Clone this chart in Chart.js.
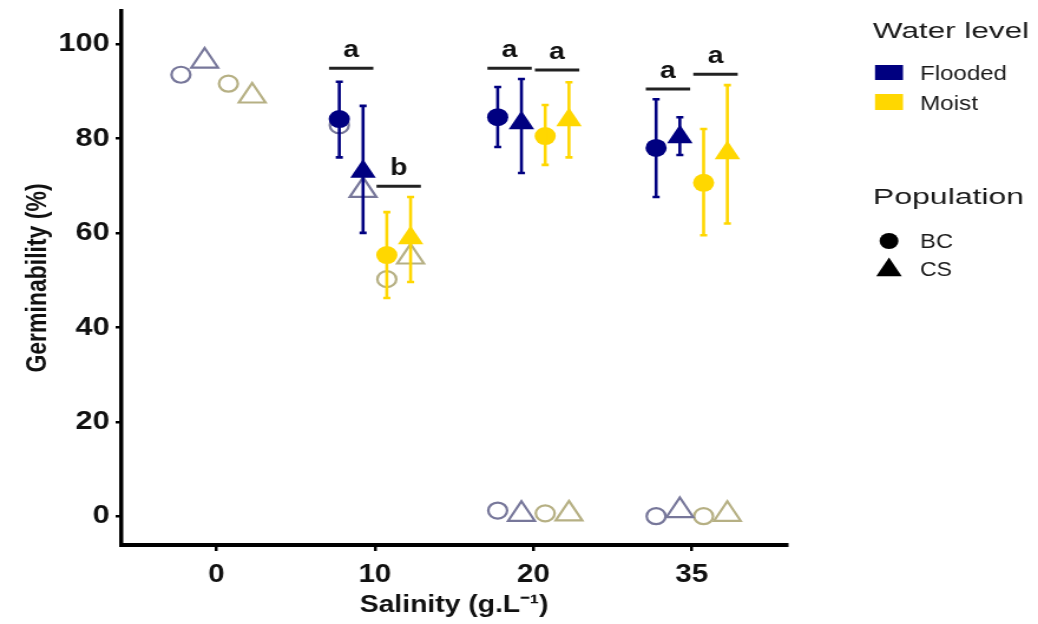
<!DOCTYPE html>
<html>
<head>
<meta charset="utf-8">
<script src="https://cdn.jsdelivr.net/npm/chart.js@4.4.1/dist/chart.umd.min.js"></script>
<style>
  body { margin: 0; background: #fff; }
  #myChart { display: block; width: 1038px; height: 624px; }
</style>
</head>
<body>
<canvas id="myChart" width="880" height="624" style="width:1038px;height:624px"></canvas>
<script>
// categories and tick labels
var salinity = ['0', '10', '20', '35'];
var yTickValues = [0, 20, 40, 60, 80, 100];

// mean germinability with error bar limits (no treatment at 0)
var floodedBC = [null, 84.1, 84.5, 78.0];
var floodedBCLow = [null, 76.0, 78.2, 67.6];
var floodedBCHigh = [null, 92.0, 90.9, 88.3];
var floodedCS = [null, 73.0, 83.3, 80.3];
var floodedCSLow = [null, 60.0, 72.7, 76.5];
var floodedCSHigh = [null, 86.9, 92.6, 84.5];
var moistBC = [null, 55.3, 80.5, 70.6];
var moistBCLow = [null, 46.2, 74.4, 59.5];
var moistBCHigh = [null, 64.4, 87.1, 82.0];
var moistCS = [null, 58.9, 83.9, 76.9];
var moistCSLow = [null, 49.6, 76.0, 62.0];
var moistCSHigh = [null, 67.6, 91.9, 91.3];

// hollow (faded) markers
var floodedBCOpen = [93.5, 82.8, 1.2, 0.0];
var floodedCSOpen = [96.4, 69.0, 0.4, 1.2];
var moistBCOpen = [91.6, 50.2, 0.6, 0.0];
var moistCSOpen = [89.0, 54.9, 0.5, 0.4];

// significance letters and the height of their bars
var floodedLetters = ['', 'a', 'a', 'a'];
var floodedLetterY = [null, 94.9, 94.9, 90.5];
var moistLetters = ['', 'b', 'a', 'a'];
var moistLetterY = [null, 69.9, 94.5, 93.6];

var waterLevels = ['Flooded', 'Moist'];
var populations = ['BC', 'CS'];

var NAVY = '#000080';
var GOLD = '#FFD700';
var dodge = [-0.225, -0.075, 0.075, 0.225];

function pts(values, g) {
    var out = [];
    values.forEach(function (v, i) {
        if (v !== null) out.push({ x: i + 1 + dodge[g], y: v });
    });
    return out;
}

function openSet(values, g, style, color) {
    return {
        data: pts(values, g), order: 2,
        pointStyle: style, pointRadius: style === 'circle' ? 8 : 13,
        backgroundColor: 'rgba(0,0,0,0)', borderColor: color, pointBorderWidth: 2.2,
        showLine: false
    };
}
function fillSet(values, g, style, color) {
    return {
        data: pts(values, g), order: 1,
        pointStyle: style, pointRadius: style === 'circle' ? 9 : 12.5,
        backgroundColor: color, borderColor: color, pointBorderWidth: 0,
        showLine: false
    };
}

var errorSeries = [
    { lo: floodedBCLow, hi: floodedBCHigh, g: 0, color: NAVY },
    { lo: floodedCSLow, hi: floodedCSHigh, g: 1, color: NAVY },
    { lo: moistBCLow, hi: moistBCHigh, g: 2, color: GOLD },
    { lo: moistCSLow, hi: moistCSHigh, g: 3, color: GOLD }
];

// error bars and significance bars
var extras = {
    id: 'extras',
    afterDatasetsDraw: function (chart) {
        var ctx = chart.ctx, xs = chart.scales.x, ys = chart.scales.y;
        ctx.save();
        errorSeries.forEach(function (s) {
            s.lo.forEach(function (lo, i) {
                if (lo === null) return;
                var x = xs.getPixelForValue(i + 1 + dodge[s.g]);
                var y1 = ys.getPixelForValue(lo), y2 = ys.getPixelForValue(s.hi[i]);
                ctx.strokeStyle = s.color;
                ctx.lineWidth = 2.6;
                ctx.beginPath();
                ctx.moveTo(x, y1); ctx.lineTo(x, y2);
                ctx.moveTo(x - 3, y1); ctx.lineTo(x + 3, y1);
                ctx.moveTo(x - 3, y2); ctx.lineTo(x + 3, y2);
                ctx.stroke();
            });
        });
        ctx.strokeStyle = '#222';
        ctx.fillStyle = '#111';
        ctx.lineWidth = 3;
        ctx.font = 'bold 24px "Liberation Sans", Arial, sans-serif';
        ctx.textAlign = 'center';
        ctx.textBaseline = 'alphabetic';
        function bar(letters, ys_, side) {
            letters.forEach(function (t, i) {
                if (!t) return;
                var a = xs.getPixelForValue(i + 1 + side * 0.01);
                var b = xs.getPixelForValue(i + 1 + side * 0.29);
                var y = ys.getPixelForValue(ys_[i]);
                ctx.beginPath();
                ctx.moveTo(a, y); ctx.lineTo(b, y);
                ctx.stroke();
                ctx.fillText(t, xs.getPixelForValue(i + 1 + side * 0.15), y - 11);
            });
        }
        bar(floodedLetters, floodedLetterY, -1);
        bar(moistLetters, moistLetterY, 1);
        ctx.restore();
    }
};

// legend with two titled groups
var SX = 1038 / 880;
function fitText(ctx, text, x, y, w) {
    var m = ctx.measureText(text).width;
    ctx.save();
    ctx.translate(x, y);
    ctx.scale((w / SX) / m, 1);
    ctx.fillText(text, 0, 0);
    ctx.restore();
}
var legendPlugin = {
    id: 'twoLegends',
    afterDraw: function (chart) {
        var ctx = chart.ctx;
        var L = 873 / SX, T = 920 / SX;
        ctx.save();
        ctx.fillStyle = '#1a1a1a';
        ctx.textBaseline = 'alphabetic';
        ctx.textAlign = 'left';
        ctx.font = '22px "Liberation Sans", Arial, sans-serif';
        fitText(ctx, 'Water level', L, 38, 156);
        fitText(ctx, 'Population', L, 204, 151);
        ctx.font = '20px "Liberation Sans", Arial, sans-serif';
        fitText(ctx, waterLevels[0], T, 80, 87);
        fitText(ctx, waterLevels[1], T, 110, 58);
        fitText(ctx, populations[0], T, 248, 33);
        fitText(ctx, populations[1], T, 276, 32);
        ctx.fillStyle = NAVY;
        ctx.fillRect(875 / SX, 65, 28 / SX, 15);
        ctx.fillStyle = GOLD;
        ctx.fillRect(875 / SX, 94, 28 / SX, 16);
        ctx.fillStyle = '#000';
        var cx = 889 / SX;
        ctx.beginPath();
        ctx.arc(cx, 241, 8, 0, Math.PI * 2);
        ctx.fill();
        var r = 12.5;
        ctx.beginPath();
        ctx.moveTo(cx, 270 - r);
        ctx.lineTo(cx + r * 0.866, 270 + r / 2);
        ctx.lineTo(cx - r * 0.866, 270 + r / 2);
        ctx.closePath();
        ctx.fill();
        ctx.restore();
    }
};

Chart.defaults.font.family = '"Liberation Sans", Arial, sans-serif';
Chart.defaults.color = '#111';

var ctx = document.getElementById('myChart').getContext('2d');
var myChart = new Chart(ctx, {
    type: 'scatter',
    data: {
        datasets: [
            openSet(floodedBCOpen, 0, 'circle', '#77779a'),
            openSet(floodedCSOpen, 1, 'triangle', '#77779a'),
            openSet(moistBCOpen, 2, 'circle', '#b6b084'),
            openSet(moistCSOpen, 3, 'triangle', '#b6b084'),
            fillSet(floodedBC, 0, 'circle', NAVY),
            fillSet(floodedCS, 1, 'triangle', NAVY),
            fillSet(moistBC, 2, 'circle', GOLD),
            fillSet(moistCS, 3, 'triangle', GOLD)
        ]
    },
    options: {
        responsive: false,
        animation: false,
        devicePixelRatio: 1,
        layout: { autoPadding: false, padding: { top: 11, right: 213, left: 0, bottom: 0 } },
        plugins: { legend: { display: false }, tooltip: { enabled: false } },
        scales: {
            x: {
                type: 'linear', min: 0.4, max: 4.6,
                afterFit: function (s) { s.height = 79; s.paddingLeft = 0; s.paddingRight = 0; },
                afterBuildTicks: function (s) {
                    s.ticks = salinity.map(function (c, i) { return { value: i + 1 }; });
                },
                ticks: {
                    padding: 9,
                    font: { size: 25, weight: 'bold' },
                    callback: function (v, i) { return salinity[i]; }
                },
                grid: { drawOnChartArea: false, drawTicks: true, tickLength: 6, color: '#000', lineWidth: 2.5 },
                border: { display: true, color: '#000', width: 4 },
                title: {
                    display: true, text: 'Salinity (g.L\u207B\u00B9)',
                    font: { size: 24, weight: 'bold' }, padding: { top: 0, bottom: 4 }
                }
            },
            y: {
                min: -6.1, max: 107,
                afterFit: function (s) { s.width = 103; s.paddingTop = 0; s.paddingBottom = 0; },
                afterBuildTicks: function (s) {
                    s.ticks = yTickValues.map(function (v) { return { value: v }; });
                },
                ticks: { padding: 5, font: { size: 26, weight: 'bold' } },
                grid: { drawOnChartArea: false, drawTicks: true, tickLength: 5, color: '#000', lineWidth: 2.5 },
                border: { display: true, color: '#000', width: 3.5 },
                title: {
                    display: true, text: 'Germinability (%)',
                    font: { size: 23, weight: 'bold' }, padding: { top: 19, bottom: 0 }
                }
            }
        }
    },
    plugins: [extras, legendPlugin]
});
</script>
</body>
</html>
